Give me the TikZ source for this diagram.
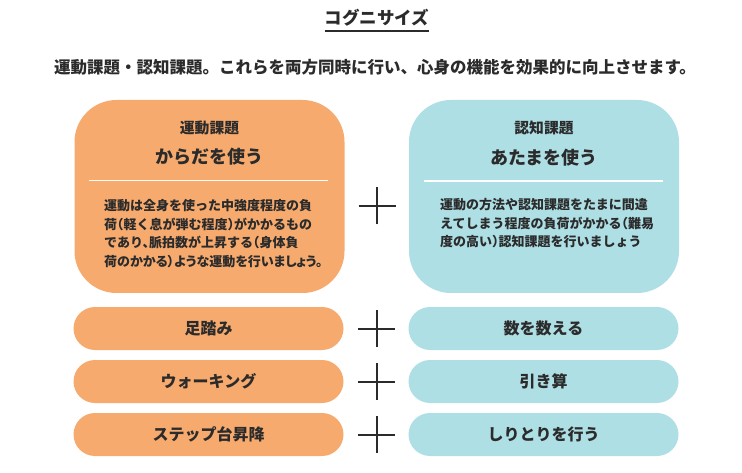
\documentclass[tikz,border=0pt]{standalone}
\usepackage{fontspec}
\setmainfont{Noto Sans CJK JP}
\newfontfamily\jpbody[CharacterWidth=AlternateHalf]{Noto Sans CJK JP}
\newfontfamily\jptight[CharacterWidth=AlternateProportional]{Noto Sans CJK JP}
\usetikzlibrary{positioning}
\definecolor{motorange}{HTML}{F6AA6E}
\definecolor{cogblue}{HTML}{AEDFE5}
\definecolor{inkgray}{HTML}{2B2B2B}

\begin{document}
\begin{tikzpicture}[x=1pt,y=-1pt,
    bigbox/.style={rectangle, rounded corners=42pt, minimum width=270pt, minimum height=193pt, inner sep=0pt},
    pill/.style={rectangle, rounded corners=21.5pt, minimum width=270pt, minimum height=43pt, inner sep=0pt,
        text=inkgray, font=\bfseries\fontsize{16}{18}\selectfont},
    headsmall/.style={inner sep=0pt, text=inkgray, font=\bfseries\fontsize{14.8}{16}\selectfont},
    headbig/.style={inner sep=0pt, text=inkgray, font=\bfseries\fontsize{18}{20}\selectfont},
    bodytext/.style={inner sep=0pt, anchor=north west, align=left, text=inkgray, font=\bfseries\jpbody\fontsize{13}{18.7}\selectfont},
    plusline/.style={line width=2pt, inkgray}]
    \useasboundingbox (0,0) rectangle (742,473);

    % title and lead text
    \node[inner sep=0pt, text=inkgray, font=\bfseries\fontsize{17.5}{19}\selectfont] (title) at (377,18) {コグニサイズ};
    \draw[line width=2pt, inkgray] ([yshift=-4.5pt]title.south west) -- ([yshift=-4.5pt]title.south east);
    \node[inner sep=0pt, text=inkgray, font=\bfseries\fontsize{16.5}{18}\selectfont] (lead) at (375,67)
        {運動課題・認知課題。これらを両方同時に行い、心身の機能を効果的に向上させます。};

    % big boxes
    \node[bigbox, fill=motorange] (motorbox) at (209.5,196.5) {};
    \node[bigbox, fill=cogblue] (cogbox) at (544,196.5) {};

    \node[headsmall] (motorhead) at (209.5,128) {運動課題};
    \node[headbig] (motortitle) at (209.5,157) {からだを使う};
    \draw[white, line width=1.5pt] (89,180.5) -- (328,180.5);
    \node[bodytext] (motorbody) at (104,199) {運動は全身を使った中強度程度の負\\荷（軽く息が弾む程度）がかかるもの\\であり、脈拍数が上昇する（身体負\\{\jptight 荷のかかる）ような運動を行いましょう。}};

    \node[headsmall] (coghead) at (544,128) {認知課題};
    \node[headbig] (cogtitle) at (544,158) {あたまを使う};
    \draw[white, line width=1.5pt] (424,181) -- (663,181);
    \node[bodytext] (cogbody) at (440,198) {運動の方法や認知課題をたまに間違\\えてしまう程度の負荷がかかる（難易\\度の高い）認知課題を行いましょう};

    \coordinate (bigplus) at (377,206);
    \draw[plusline] ([xshift=-18.5pt]bigplus) -- ([xshift=18.5pt]bigplus);
    \draw[plusline] ([yshift=-18.5pt]bigplus) -- ([yshift=18.5pt]bigplus);

    % example rows
    \foreach \i/\yy/\mot/\cog in {1/328.5/足踏み/数を数える, 2/381.5/ウォーキング/引き算, 3/434.5/ステップ台昇降/しりとりを行う} {
        \node[pill, fill=motorange] (mot\i) at (208.5,\yy) {\mot};
        \node[pill, fill=cogblue] (cog\i) at (543.5,\yy) {\cog};
        \coordinate (plus\i) at (376.5,\yy);
        \draw[plusline] ([xshift=-18.5pt]plus\i) -- ([xshift=18.5pt]plus\i);
        \draw[plusline] ([yshift=-18.5pt]plus\i) -- ([yshift=18.5pt]plus\i);
    }
\end{tikzpicture}
\end{document}
